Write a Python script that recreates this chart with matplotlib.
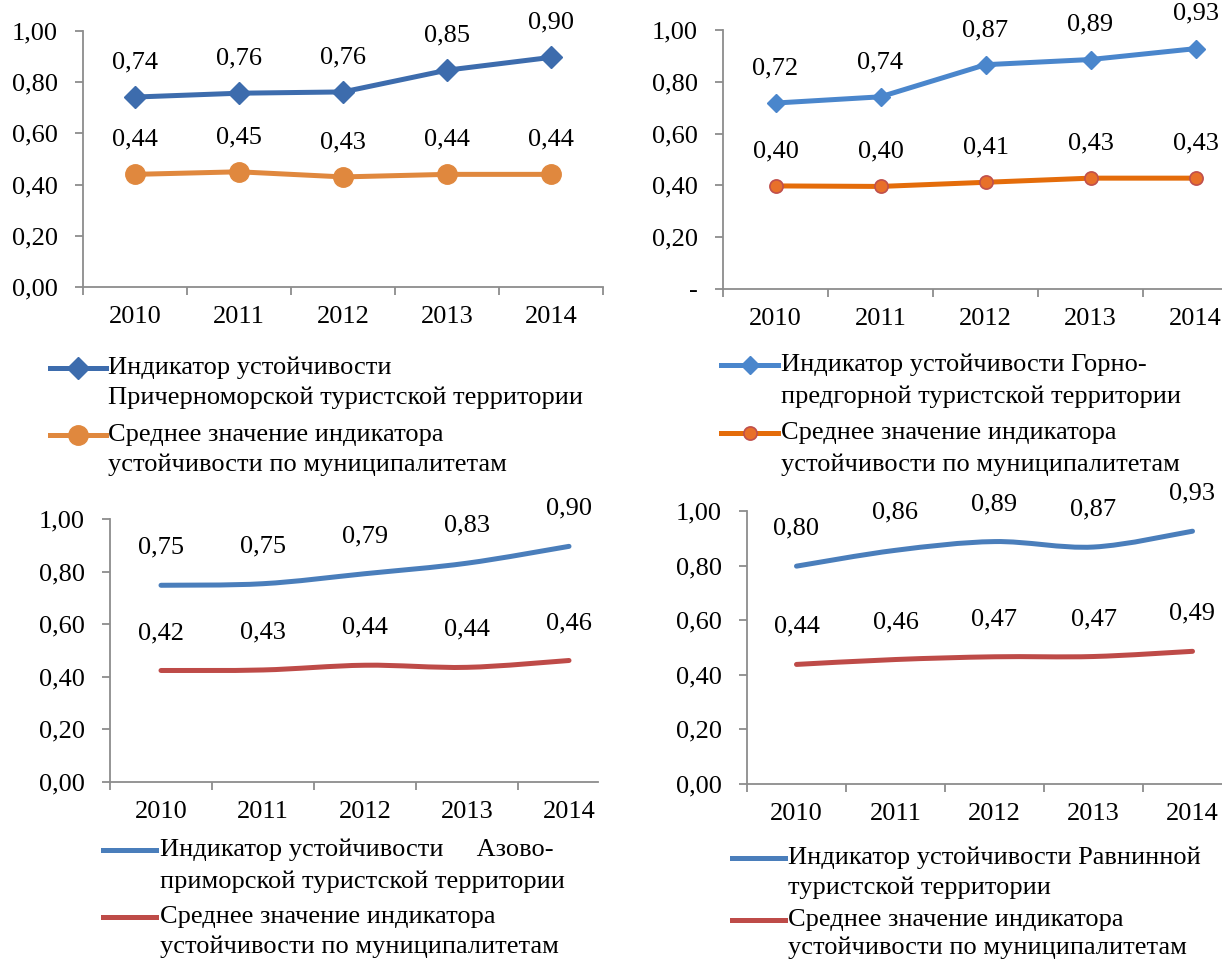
import matplotlib
matplotlib.use("Agg")
import matplotlib.pyplot as plt
from matplotlib.lines import Line2D
from matplotlib.path import Path
from matplotlib.patches import PathPatch
from matplotlib.ticker import FixedLocator, FuncFormatter, NullFormatter

plt.rcParams['font.family'] = ['Liberation Serif', 'DejaVu Serif']

# ---------------- data ----------------
years = ["2010", "2011", "2012", "2013", "2014"]

p1_black_sea = [0.742, 0.757, 0.762, 0.847, 0.897]
p1_mean = [0.44, 0.45, 0.43, 0.44, 0.44]

p2_mountain = [0.718, 0.742, 0.866, 0.886, 0.928]
p2_mean = [0.398, 0.396, 0.412, 0.428, 0.428]

p3_azov = [0.748, 0.754, 0.792, 0.832, 0.896]
p3_mean = [0.424, 0.426, 0.444, 0.436, 0.462]

p4_plain = [0.798, 0.856, 0.888, 0.868, 0.926]
p4_mean = [0.438, 0.456, 0.466, 0.467, 0.486]

y_ticks = [0.0, 0.2, 0.4, 0.6, 0.8, 1.0]

leg1 = [["Индикатор устойчивости", "Причерноморской туристской территории"],
        ["Среднее значение индикатора", "устойчивости по муниципалитетам"]]
leg2 = [["Индикатор устойчивости Горно-", "предгорной туристской территории"],
        ["Среднее значение индикатора", "устойчивости по муниципалитетам"]]
leg3 = [["Индикатор устойчивости     Азово-", "приморской туристской территории"],
        ["Среднее значение индикатора", "устойчивости по муниципалитетам"]]
leg4 = [["Индикатор устойчивости Равнинной", "туристской территории"],
        ["Среднее значение индикатора", "устойчивости по муниципалитетам"]]

W, H = 1222, 960
fig = plt.figure(figsize=(W / 100, H / 100), dpi=100)

FS = 19
LEG_FS = 19
AXCOL = "#8c8c8c"


def fmt_num(v):
    return f"{v:.2f}".replace(".", ",")


def make_axes(left, right, top, bottom, spacing, zero_dash=False):
    ax = fig.add_axes([left / W, 1 - bottom / H, (right - left) / W, (bottom - top) / H])
    ax.set_ylim(0, 1)
    ax.set_xlim(-0.5, -0.5 + (right - left) / spacing)
    for s in ("top", "right"):
        ax.spines[s].set_visible(False)
    for s in ("left", "bottom"):
        ax.spines[s].set_color(AXCOL)
        ax.spines[s].set_linewidth(1.3)
    ax.yaxis.set_major_locator(FixedLocator(y_ticks))
    if zero_dash:
        ax.yaxis.set_major_formatter(FuncFormatter(lambda v, p: "-" if abs(v) < 1e-9 else fmt_num(v)))
    else:
        ax.yaxis.set_major_formatter(FuncFormatter(lambda v, p: fmt_num(v)))
    ax.tick_params(axis="y", direction="out", length=6, width=1.3, color=AXCOL,
                   labelsize=FS, pad=12)
    bounds = [i - 0.5 for i in range(len(years) + 1)]
    ax.xaxis.set_major_locator(FixedLocator(bounds))
    ax.xaxis.set_major_formatter(NullFormatter())
    ax.xaxis.set_minor_locator(FixedLocator(list(range(len(years)))))
    ax.xaxis.set_minor_formatter(FuncFormatter(lambda v, p: years[int(round(v))]))
    ax.tick_params(axis="x", which="major", direction="out", length=6, width=1.3, color=AXCOL)
    ax.tick_params(axis="x", which="minor", length=0, labelsize=FS, pad=14)
    ax.patch.set_alpha(0)
    return ax


def labels(ax, vals, off=25):
    for i, v in enumerate(vals):
        ax.annotate(fmt_num(v), (i, v), xytext=(0, off), textcoords="offset points",
                    ha="center", va="center", fontsize=FS, annotation_clip=False)


def smooth(ax, vals, color, lw):
    xs = list(range(len(vals)))
    pts = list(zip(xs, vals))
    verts = [pts[0]]
    codes = [Path.MOVETO]
    n = len(pts)
    for i in range(n - 1):
        p0 = pts[i - 1] if i > 0 else pts[i]
        p1 = pts[i]
        p2 = pts[i + 1]
        p3 = pts[i + 2] if i + 2 < n else pts[i + 1]
        c1 = (p1[0] + (p2[0] - p0[0]) / 6, p1[1] + (p2[1] - p0[1]) / 6)
        c2 = (p2[0] - (p3[0] - p1[0]) / 6, p2[1] - (p3[1] - p1[1]) / 6)
        verts += [c1, c2, p2]
        codes += [Path.CURVE4] * 3
    ax.add_patch(PathPatch(Path(verts, codes), fill=False, edgecolor=color, lw=lw,
                           capstyle="round", joinstyle="round"))


def legend(x_line0, x_line1, x_text, rows, entries, styles):
    for k, (lines, st) in enumerate(zip(entries, styles)):
        y0 = rows[2 * k]
        fy = 1 - y0 / H
        xm = (x_line0 + x_line1) / 2
        ln = Line2D([x_line0 / W, xm / W, x_line1 / W], [fy, fy, fy], transform=fig.transFigure,
                    color=st["color"], lw=st["lw"], marker=st.get("marker", None),
                    markevery=[1], ms=st.get("ms", 0), mfc=st.get("mfc", st["color"]),
                    mec=st.get("mec", st["color"]), mew=st.get("mew", 1))
        fig.add_artist(ln)
        for j, t in enumerate(lines):
            fig.text(x_text / W, 1 - rows[2 * k + j] / H, t, fontsize=LEG_FS,
                     ha="left", va="center")


# ---------------- panel 1 ----------------
B1, O1 = "#3D6CAD", "#E0883E"
ax1 = make_axes(83, 603, 31, 287, 104)
ax1.plot(range(5), p1_black_sea, color=B1, lw=3.6, marker="D", ms=11, mfc=B1, mec=B1, zorder=3)
ax1.plot(range(5), p1_mean, color=O1, lw=3.6, marker="o", ms=14, mfc=O1, mec=O1, zorder=3)
labels(ax1, p1_black_sea)
labels(ax1, p1_mean)
legend(50, 106, 108, [368, 398, 435, 465], leg1,
       [dict(color=B1, lw=3.6, marker="D", ms=11),
        dict(color=O1, lw=3.6, marker="o", ms=14)])

# ---------------- panel 2 ----------------
B2, O2 = "#4A86CC", "#E46C0A"
ax2 = make_axes(723, 1222, 30, 289, 105, zero_dash=True)
ax2.plot(range(5), p2_mountain, color=B2, lw=3.6, marker="D", ms=9, mfc=B2, mec=B2, zorder=3)
ax2.plot(range(5), p2_mean, color=O2, lw=3.6, marker="o", ms=9.5, mfc="#E8702A", mec="#C0504D",
         mew=1.2, zorder=3)
labels(ax2, p2_mountain)
labels(ax2, p2_mean)
legend(721, 778, 781, [365, 397, 433, 465], leg2,
       [dict(color=B2, lw=3.6, marker="D", ms=9),
        dict(color=O2, lw=3.6, marker="o", ms=9.5, mfc="#E8702A", mec="#C0504D", mew=1.2)])

# ---------------- panel 3 ----------------
B3, R3 = "#4A7EBB", "#BE4B48"
ax3 = make_axes(110, 598, 519, 782, 102)
smooth(ax3, p3_azov, B3, 3.6)
smooth(ax3, p3_mean, R3, 3.6)
labels(ax3, p3_azov, 27)
labels(ax3, p3_mean, 27)
legend(103, 156, 160, [850, 882, 917, 947], leg3,
       [dict(color=B3, lw=3.6), dict(color=R3, lw=3.6)])

# ---------------- panel 4 ----------------
ax4 = make_axes(747, 1222, 511, 784, 99)
smooth(ax4, p4_plain, B3, 3.6)
smooth(ax4, p4_mean, R3, 3.6)
labels(ax4, p4_plain, 27)
labels(ax4, p4_mean, 27)
legend(732, 785, 788, [858, 888, 920, 948], leg4,
       [dict(color=B3, lw=3.6), dict(color=R3, lw=3.6)])

fig.savefig("out.png", dpi=100)
